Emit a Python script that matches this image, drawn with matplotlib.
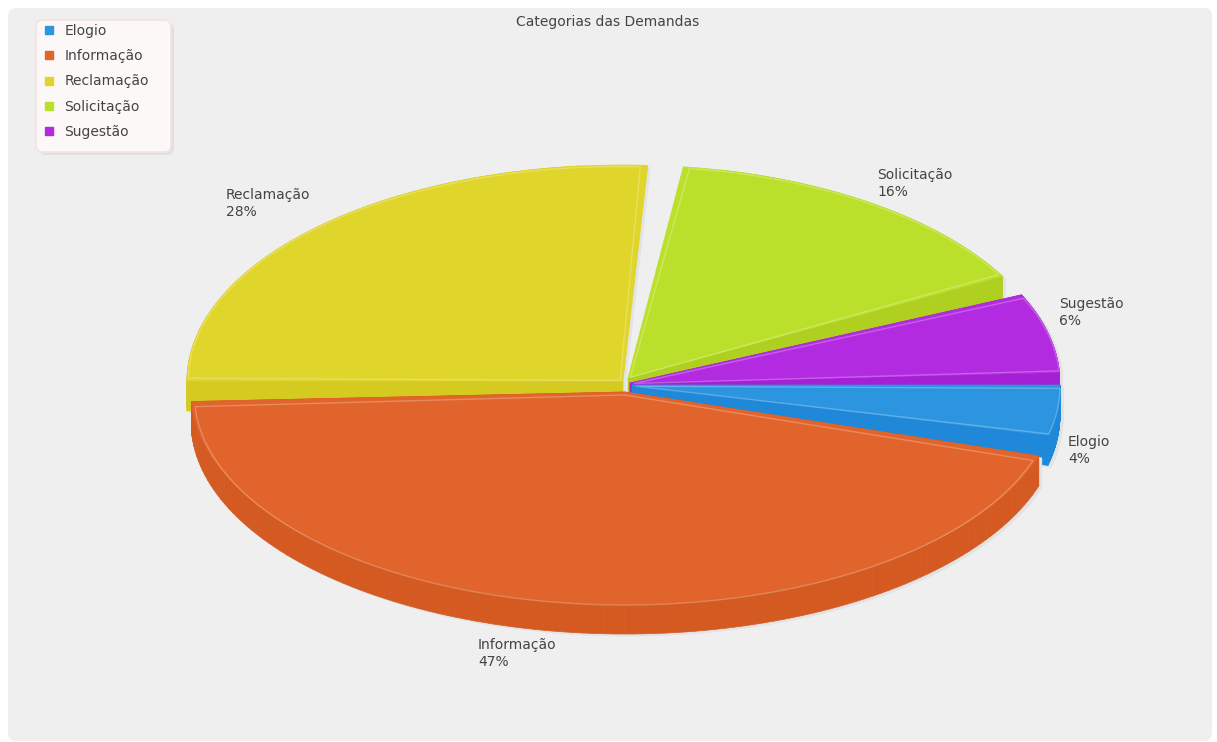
# Pseudo-3D pie chart of complaint categories, drawn in pixel coordinates
import numpy as np
import matplotlib
matplotlib.use("Agg")
import matplotlib.pyplot as plt
from matplotlib.collections import PolyCollection
from matplotlib.lines import Line2D
from matplotlib.patches import FancyBboxPatch, Polygon

# data
categories = ["Elogio", "Informação", "Reclamação", "Solicitação", "Sugestão"]
pct_labels = ["4%", "47%", "28%", "16%", "6%"]
# share of the ellipse each slice really covers in the drawing
values = [3.8, 44.4, 25.9, 15.0, 6.0]

# style and layout
top_colors = ["#2B95E0", "#E0642B", "#E0D52B", "#BBE02B", "#B22BE0"]
side_colors = ["#1F88D8", "#D45A22", "#D5CA20", "#AFD020", "#A520D5"]
gaps_after = [3.9, 2.6, 4.2, 4.1, 3.4]           # degrees between slices
centers = [(632, 385), (625, 392), (623, 381), (628, 378), (630, 383)]
radii = [(428, 213), (434, 212), (436, 216), (426, 213), (430, 213)]
label_xy = [(1068, 442), (478, 645), (226, 195), (877, 175), (1059, 304)]
draw_order = [2, 3, 4, 0, 1]
no_start_wall = [False, False, False, True, False]  # solicitacao, left cut
no_end_wall = [False, False, True, False, False]    # reclamacao, right cut
DEPTH = 30
TEXT_COLOR = "#444444"


def outline(center, radius, start, end):
    # slice outline in pixels, angles run clockwise on screen from east
    t = np.radians(np.linspace(start, end, 120))
    xs = center[0] + radius[0] * np.cos(t)
    ys = center[1] + radius[1] * np.sin(t)
    pts = np.column_stack([xs, ys])
    return np.vstack([[center], pts])


def side_quads(pts, depth, drop_start=False, drop_end=False):
    closed = np.vstack([pts, pts[0]])
    quads = []
    for a, b in zip(closed[:-1], closed[1:]):
        quads.append([a, b, b + [0, depth], a + [0, depth]])
    # leave out a cut and the bit of arc next to it
    if drop_end:
        quads = quads[:-12]
    if drop_start:
        quads = quads[12:]
    return quads


fig = plt.figure(figsize=(12.17, 7.42), dpi=100, facecolor="white")
ax = fig.add_axes([0, 0, 1, 1])
ax.set_xlim(0, 1217)
ax.set_ylim(742, 0)
ax.axis("off")

# panel
ax.add_patch(FancyBboxPatch((8, 8), 1204, 733, boxstyle="round,pad=0,rounding_size=8",
                            facecolor="#EFEFEF", edgecolor="none", zorder=0))

ax.text(608, 22, "Categorias das Demandas", ha="center", va="center",
        fontsize=10, color=TEXT_COLOR)

# slice angles
starts, ends = [], []
angle = 0.0
for val, gap in zip(values, gaps_after):
    starts.append(angle)
    ends.append(angle + val * 3.6)
    angle = ends[-1] + gap

z = 2
for i in draw_order:
    pts = outline(centers[i], radii[i], starts[i], ends[i])

    # soft shadow, then the extruded wall, then the top face
    ax.add_patch(Polygon(pts + [3, 2], closed=True, facecolor="#E3E3E3",
                         edgecolor="none", zorder=z))
    ax.add_collection(PolyCollection(side_quads(pts + [3, 2], DEPTH, no_start_wall[i], no_end_wall[i]),
                                     facecolors="#E3E3E3", edgecolors="#E3E3E3",
                                     linewidths=0.5, zorder=z))
    ax.add_collection(PolyCollection(side_quads(pts, DEPTH, no_start_wall[i], no_end_wall[i]),
                                     facecolors=side_colors[i], edgecolors=side_colors[i],
                                     linewidths=0.5, zorder=z + 1))
    ax.add_patch(Polygon(pts, closed=True, facecolor=top_colors[i],
                         edgecolor=top_colors[i], linewidth=0.5, zorder=z + 2))

    # pale bevel line just inside the top face
    mid = np.radians((starts[i] + ends[i]) / 2)
    inner_c = (centers[i][0] + 4 * np.cos(mid), centers[i][1] + 1 + 2 * np.sin(mid))
    inner_r = (radii[i][0] - 4, radii[i][1] - 2)
    inner = outline(inner_c, inner_r, starts[i] + 0.6, ends[i] - 0.6)
    ax.add_patch(Polygon(inner, closed=True, fill=False, edgecolor="white", alpha=0.25,
                         linewidth=1.0, zorder=z + 3))
    z += 4

# slice labels
for i, name in enumerate(categories):
    x, y = label_xy[i]
    ax.text(x, y, name, ha="left", va="center", fontsize=10, color=TEXT_COLOR, zorder=50)
    ax.text(x, y + 17, pct_labels[i], ha="left", va="center", fontsize=10,
            color=TEXT_COLOR, zorder=50)

# legend box, shadow first
ax.add_patch(FancyBboxPatch((39, 23), 135, 132, boxstyle="round,pad=0,rounding_size=7",
                            facecolor="#E0E0E0", edgecolor="none", zorder=58))
ax.add_patch(FancyBboxPatch((36, 20), 135, 132, boxstyle="round,pad=0,rounding_size=7",
                            facecolor="#FDF8F8", edgecolor="#F8E2E2", linewidth=1.2, zorder=59))

handles = [Line2D([], [], linestyle="none", marker="s", markersize=5.5,
                  color=c, label=n) for c, n in zip(top_colors, categories)]
leg = ax.legend(handles=handles, loc="upper left", bbox_to_anchor=(36 / 1217, 1 - 16 / 742),
                borderaxespad=0, fontsize=10, labelspacing=0.82, handlelength=0.7,
                handletextpad=0.8, borderpad=0.55, frameon=False, labelcolor=TEXT_COLOR)
leg.set_zorder(60)

fig.savefig("out.png", dpi=100)
